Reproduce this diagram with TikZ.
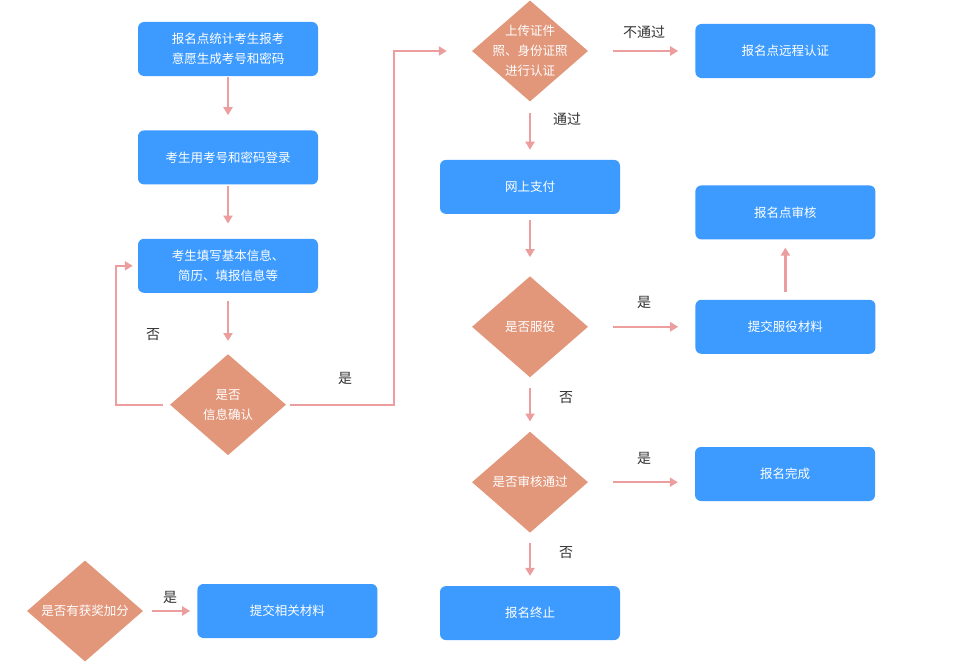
\documentclass[tikz,border=0pt]{standalone}
\usepackage{fontspec}
\setmainfont{Noto Sans CJK SC}
\usepackage{xcolor}
\usetikzlibrary{positioning,arrows.meta,shapes.geometric}
\definecolor{boxblue}{HTML}{3D9BFF}
\definecolor{diaorange}{HTML}{E2967A}
\definecolor{linkpink}{HTML}{EC9E9E}
\definecolor{labelgray}{HTML}{333333}

\begin{document}
\begin{tikzpicture}[
      x=1pt, y=-1pt,
      font=\fontsize{12.5}{20}\selectfont,
      node distance=54pt,
      box/.style={fill=boxblue, rounded corners=6pt, minimum width=180pt, minimum height=54pt, inner sep=0pt, align=center, text=white},
      dia/.style={diamond, fill=diaorange, minimum width=116pt, minimum height=101pt, inner sep=0pt},
      dtext/.style={text=white, align=center, font=\fontsize{12.5}{20}\selectfont},
      arrow/.style={-{Triangle[length=8pt,width=9pt]}, line width=2.4pt, draw=linkpink, shorten <=6pt, shorten >=14pt},
      lbl/.style={text=labelgray, font=\fontsize{14}{16}\selectfont}
    ]
    \useasboundingbox[fill=white] (0,0) rectangle (958,669);

    % left column
    \node[box]                   (reg)     at (228,49) {报名点统计考生报考\\意愿生成考号和密码};
    \node[box, below=of reg]     (login)   {考生用考号和密码登录};
    \node[box, below=of login]   (fillin)  {考生填写基本信息、\\简历、填报信息等};
    \node[dia, below=61pt of fillin, label={[dtext]center:是否\\信息确认}] (confirm) {};

    % right column
    \node[dia, label={[dtext]center:上传证件\\照、身份证照\\进行认证}] (upload) at (530,51) {};
    \node[box, below=58pt of upload] (pay)   {网上支付};
    \node[dia, below=62pt of pay, label={[dtext]center:是否服役}] (army) {};
    \node[dia, below=54pt of army, label={[dtext]center:是否审核通过}] (audit) {};
    \node[box, below=53pt of audit]  (stop)  {报名终止};

    \node[box, right=107pt of upload] (remote)  {报名点远程认证};
    \node[box, right=107pt of army]   (armydoc) {提交服役材料};
    \node[box, above=60pt of armydoc] (check)   {报名点审核};
    \node[box]                        (done)    at (785,474) {报名完成};

    % bonus
    \node[dia, label={[dtext]center:是否有获奖加分}] (bonus) at (85,611) {};
    \node[box, right=54pt of bonus]   (submit)  {提交相关材料};

    \draw[arrow, shorten <=1pt, shorten >=15pt] (reg) -- (login);
    \draw[arrow, shorten <=1pt, shorten >=15pt] (login) -- (fillin);
    \draw[arrow, shorten <=8pt, shorten >=13pt] (fillin) -- (confirm);
    \draw[arrow, shorten <=7pt, shorten >=5pt] (confirm.west) -- ++(-54,0) |- (fillin.west);
    \draw[arrow, shorten <=4pt, shorten >=25pt] (confirm.east) -- ++(108,0) |- (upload.west);

    \draw[arrow, shorten <=25pt, shorten >=17pt] (upload) -- (remote);
    \draw[arrow, shorten <=11pt, shorten >=10pt] (upload) -- (pay);
    \draw[arrow, shorten <=6pt, shorten >=19pt] (pay) -- (army);
    \draw[arrow, shorten <=25pt, shorten >=17pt] (army) -- (armydoc);
    \draw[arrow, shorten <=8pt, shorten >=8pt] (armydoc) -- (check);
    \draw[arrow, shorten <=10pt, shorten >=10pt] (army) -- (audit);
    \draw[arrow, shorten <=25pt, shorten >=17pt] (audit.east) -- (audit.east -| done.west);
    \draw[arrow, shorten <=10pt, shorten >=10pt] (audit) -- (stop);
    \draw[arrow, shorten <=9pt, shorten >=7pt] (bonus) -- (submit);

    \node[lbl] (nolbl1)   at (153,335) {否};
    \node[lbl] (yeslbl1)  at (345,378) {是};
    \node[lbl] (faillbl)  at (644,32)  {不通过};
    \node[lbl] (passlbl)  at (567,119) {通过};
    \node[lbl] (yeslbl2)  at (644,302) {是};
    \node[lbl] (nolbl2)   at (566,398) {否};
    \node[lbl] (yeslbl3)  at (644,458) {是};
    \node[lbl] (nolbl3)   at (566,553) {否};
    \node[lbl] (yeslbl4)  at (170,597) {是};
  \end{tikzpicture}
\end{document}
